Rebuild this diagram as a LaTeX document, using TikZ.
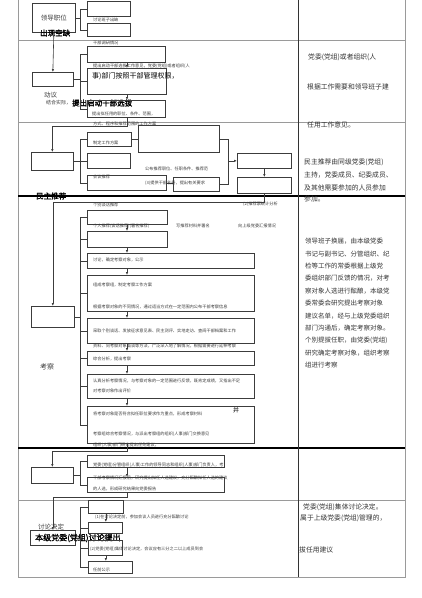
\documentclass[tikz,border=0pt]{standalone}
\usepackage{fontspec}
\setmainfont{Noto Sans CJK SC}
\newfontfamily\cjkbold[FakeBold=2]{Noto Sans CJK SC}
\usetikzlibrary{arrows.meta}
\definecolor{gridgray}{HTML}{9A9A9A}
\definecolor{inkgray}{HTML}{3C3C3C}
\tikzset{
    box/.style={draw=inkgray, line width=0.7pt, anchor=north west, inner sep=0pt},
    tiny/.style={font=\fontsize{4.2}{5}\selectfont, anchor=west, inner sep=0pt, text=inkgray},
    lab/.style={font=\fontsize{6.5}{8}\selectfont, anchor=west, inner sep=0pt, text=inkgray},
    big/.style={font=\cjkbold\fontsize{7.5}{8}\selectfont, anchor=west, inner sep=0pt, text=black},
    note/.style={font=\fontsize{6.8}{8}\selectfont, anchor=west, inner sep=0pt, text=black!80},
    arr/.style={draw=inkgray, line width=0.6pt, -{Latex[length=3pt,width=2.5pt]}},
    link/.style={draw=inkgray, line width=0.6pt},
    grid/.style={draw=gridgray, line width=0.6pt},
    rule/.style={draw=black, line width=1.1pt}
}
\begin{document}
\begin{tikzpicture}[x=1pt,y=-1pt]
        \useasboundingbox (0,0) rectangle (422,598);
        \draw[grid] (18,0) -- (18,577) -- (405,577) -- (405,0);
        \draw[grid] (18,40) -- (405,40);
        \draw[grid] (18,122) -- (405,122);
        \draw[rule] (18,196) -- (405,196);
        \draw[rule] (18,448) -- (405,448);
        \draw[grid] (18,500) -- (405,500);
        \draw[draw=black!80, line width=0.9pt] (298,0) -- (298,577);
        \coordinate (sp) at (80,0);
        \coordinate (ax) at (127,0);

        \node[box, minimum width=43pt, minimum height=29pt, font=\fontsize{6.5}{8}\selectfont, text=inkgray] (vac) at (32,3) {领导职位};
        \node[big] (vacl) at (40,33) {出现空缺};
        \node[box, minimum width=43pt, minimum height=15pt] (r1a) at (87,1) {};
        \node[box, minimum width=43pt, minimum height=13pt] (r1b) at (87,23) {};
        \node[tiny] (r1bl) at (93,20) {讨论班子出缺};
        \draw[link] (vac.east) -- (vac.east -| sp);
        \draw[link] (sp |- r1a.west) -- (sp |- r1b.west);
        \foreach \b in {r1a,r1b} \draw[link] (sp |- \b.west) -- (\b.west);

        \node[box, minimum width=41pt, minimum height=14pt] (mot) at (32,72) {};
        \draw[arr] (vac.south) -- (mot.north);
        \node[lab] (motl) at (44,95) {动议};
        \node[lab, font=\fontsize{5}{6}\selectfont] (motm) at (46,103) {结合实际，};
        \node[big] (motn) at (72,103) {提出启动干部选拔};
        \node[box, minimum width=78pt, minimum height=16pt] (ra) at (87,46) {};
        \node[box, minimum width=79pt, minimum height=26pt] (rb) at (87,68) {};
        \node[box, minimum width=78pt, minimum height=17pt] (rc) at (87,100) {};
        \node[tiny] (ral) at (93,43) {干部调研情况};
        \node[tiny] (rbl) at (93,66) {提出启动干部选拔工作意见，党委(党组)或者组织(人};
        \node[big, font=\fontsize{7}{8}\selectfont] (rbm) at (92,76) {事)部门按照干部管理权限，};
        \node[tiny] (rcl) at (92,114) {提出拟任用的职位、条件、范围，};
        \draw[arr] (ax |- ra.south) -- (ax |- rb.north);
        \draw[arr] (ax |- rb.south) -- (ax |- rc.north);
        \draw[link] (mot.east) -- (mot.east -| sp);
        \draw[link] (sp |- ra.west) -- (sp |- rc.west);
        \foreach \b in {ra,rb,rc} \draw[link] (sp |- \b.west) -- (\b.west);

        \node[box, minimum width=42pt, minimum height=18pt] (dem) at (31,152) {};
        \draw[arr] (ax |- rc.south) -- ++(0,9) -| (dem.north);
        \node[tiny] (deml) at (93,124) {方式、程序和推荐范围的工作方案};
        \node[box, minimum width=44pt, minimum height=14pt] (rd) at (87,132) {};
        \node[box, minimum width=43pt, minimum height=15pt] (re) at (87,153) {};
        \node[box, minimum width=79pt, minimum height=15pt] (rf) at (87,175) {};
        \node[box, minimum width=81pt, minimum height=27pt] (rg) at (138,125) {};
        \node[box, minimum width=46pt, minimum height=14pt] (rh) at (173,177) {};
        \node[box, minimum width=54pt, minimum height=15pt] (ri) at (237,153) {};
        \node[box, minimum width=54pt, minimum height=16pt] (rj) at (237,177) {};
        \node[tiny] (rdl) at (93,143) {制定工作方案};
        \node[tiny] (rfl) at (93,177) {会议推荐};
        \node[tiny] (rgl) at (145,169) {公布推荐职位、任职条件、推荐范};
        \node[tiny] (rhl) at (145,183) {(3)提供干部名册，提出有关要求};
        \draw[link] (rd.east) -- (rd.east -| rg.west);
        \draw[link] (rf.east) -- (rf.east -| rh.west);
        \draw[link] (rg.east) -- ++(9,0) coordinate (gk) -- (gk |- rh.east) -- (rh.east);
        \draw[arr] (gk |- ri.west) -- (ri.west);
        \draw[arr] (ri.south) -- (rj.north);
        \draw[link] (dem.east) -- (dem.east -| sp);
        \draw[link] (sp |- rd.west) -- (sp |- rf.west);
        \foreach \b in {rd,re,rf} \draw[link] (sp |- \b.west) -- (\b.west);
        \node[big] (deml) at (36,196) {民主推荐};

        \node[box, minimum width=43pt, minimum height=21pt] (ins) at (31,306) {};
        \draw[arr] (rj.south) -- ++(0,9) -| (ins.north);
        \node[lab, font=\fontsize{7}{8}\selectfont] (insl) at (40,367) {考察};
        \node[box, minimum width=80pt, minimum height=14pt] (l1) at (87,210) {};
        \node[box, minimum width=80pt, minimum height=16pt] (l2) at (87,231) {};
        \node[box, minimum width=167pt, minimum height=15pt] (l3) at (87,253) {};
        \node[box, minimum width=167pt, minimum height=36pt] (l4) at (87,275) {};
        \node[box, minimum width=167pt, minimum height=25pt] (l5) at (87,318) {};
        \node[box, minimum width=167pt, minimum height=14pt] (l6) at (87,351) {};
        \node[box, minimum width=167pt, minimum height=24pt] (l7) at (87,374) {};
        \node[box, minimum width=167pt, minimum height=37pt] (l8) at (87,406) {};
        \node[tiny] (l1l) at (93,205) {个别谈话推荐};
        \node[tiny] (l1m) at (243,204) {(2)推荐票统计分析};
        \node[tiny] (l2l) at (93,226) {个人推荐(谈话推荐)(署名推荐)};
        \node[tiny] (l2m) at (176,226) {写推荐材料并署名};
        \node[tiny] (l2n) at (238,226) {向上级党委汇报情况};
        \node[tiny] (l3l) at (93,260) {讨论，确定考察对象，公示};
        \node[tiny] (l4l) at (93,285) {组成考察组，制定考察工作方案};
        \node[tiny] (l4m) at (93,307) {根据考察对象的不同情况，通过适当方式在一定范围内公布干部考察信息};
        \node[tiny] (l5l) at (93,331) {采取个别谈话、发放征求意见表、民主测评、实地走访、查阅干部档案和工作};
        \node[tiny] (l5m) at (93,346) {资料、同考察对象面谈等方法，广泛深入地了解情况，根据需要进行延伸考察};
        \node[tiny] (l6l) at (93,359) {综合分析，提出考察};
        \node[tiny] (l7l) at (93,381) {认真分析考察情况，与考察对象的一定范围进行反馈，既肯定成绩，又指出不足};
        \node[tiny] (l7m) at (93,391) {对考察对象作出评价};
        \node[tiny] (l8l) at (93,414) {将考察对象是否符合拟任职位要求作为重点，形成考察材料};
        \node[big, font=\fontsize{6}{7}\selectfont] (l8x) at (233,410) {并};
        \node[tiny] (l8m) at (93,434) {考察组综合考察情况，与派出考察组的组织(人事)部门交换意见};
        \node[tiny] (l8n) at (93,445) {组织(人事)部门研究提出任免建议，};
        \draw[arr] (ax |- l1.south) -- (ax |- l2.north);
        \draw[arr] (ax |- l2.south) -- (ax |- l3.north);
        \draw[arr] (ax |- l3.south) -- (ax |- l4.north);
        \draw[arr] (ax |- l4.south) -- (ax |- l5.north);
        \draw[arr] (ax |- l5.south) -- (ax |- l6.north);
        \draw[arr] (ax |- l6.south) -- (ax |- l7.north);
        \draw[arr] (ax |- l7.south) -- (ax |- l8.north);
        \draw[link] (ins.east) -- (ins.east -| sp);
        \draw[link] (sp |- l1.west) -- (sp |- l8.west);
        \foreach \b in {l1,l2,l3,l4,l5,l6,l7,l8} \draw[link] (sp |- \b.west) -- (\b.west);

        \node[box, minimum width=42pt, minimum height=16pt] (pre) at (31,467) {};
        \draw[arr] (ax |- l8.south) -- ++(0,8) -| (pre.north);
        \node[box, minimum width=137pt, minimum height=12pt] (n1) at (87,455) {};
        \node[box, minimum width=137pt, minimum height=15pt] (n2) at (87,477) {};
        \node[tiny] (n1l) at (93,465) {党委(党组)分管组织(人事)工作的领导同志和组织(人事)部门负责人，考};
        \node[tiny] (n2l) at (93,478) {干部考察情况汇报后，研究提出拟任人选建议，充分酝酿拟任人选的建议};
        \node[tiny] (n2m) at (93,489) {的人选，形成研究结果向党委报告};
        \draw[arr] (ax |- n1.south) -- (ax |- n2.north);
        \draw[link] (pre.east) -- (pre.east -| sp);
        \draw[link] (sp |- n1.west) -- (sp |- n2.west);
        \foreach \b in {n1,n2} \draw[link] (sp |- \b.west) -- (\b.west);

        \node[box, minimum width=45pt, minimum height=15pt] (dec) at (30,530) {};
        \draw[arr] (ax |- n2.south) -- ++(0,5) -| (dec.north);
        \node[lab] (decl) at (38,527) {讨论决定};
        \node[big, font=\cjkbold\fontsize{8}{9}\selectfont] (decm) at (35,538) {本级党委(党组)讨论提出};
        \node[box, minimum width=35pt, minimum height=13pt] (p1) at (88,500) {};
        \node[box, minimum width=34pt, minimum height=11pt] (p2) at (88,522) {};
        \node[box, minimum width=34pt, minimum height=15pt] (p3) at (88,540) {};
        \node[box, minimum width=44pt, minimum height=12pt] (p4) at (88,561) {};
        \node[tiny] (p1l) at (95,517) {(1)在讨论决定前，参加会议人员进行充分酝酿讨论};
        \node[tiny] (p3l) at (90,549) {(2)党委(党组)集体讨论决定，会议应有三分之二以上成员到会};
        \node[tiny] (p4l) at (93,570) {任前公示};
        \draw[arr] (p1.south) -- (p1.south |- p2.north);
        \draw[arr] (p1.south |- p2.south) -- (p1.south |- p3.north);
        \draw[arr] (p1.south |- p3.south) -- (p1.south |- p4.north);
        \draw[link] (dec.east) -- (dec.east -| sp);
        \draw[link] (sp |- p1.west) -- (sp |- p4.west);
        \foreach \b in {p1,p2,p3,p4} \draw[link] (sp |- \b.west) -- (\b.west);

        \node[note] (t1) at (308,57) {党委(党组)或者组织(人};
        \node[note] (t2) at (307,87) {根据工作需要和领导班子建};
        \node[note] (t3) at (307,125) {任用工作意见。};
        \node[note] (t4) at (304,162) {民主推荐由同级党委(党组)};
        \node[note] (t5) at (304,175) {主持，党委成员、纪委成员、};
        \node[note] (t6) at (304,188) {及其他需要参加的人员参加};
        \node[note] (t7) at (304,199) {参加。};
        \node[note, anchor=north west, align=left, font=\fontsize{6.5}{12.4}\selectfont] (t8) at (305,238) {领导班子换届，由本级党委\\书记与副书记、分管组织、纪\\检等工作的常委根据上级党\\委组织部门反馈的情况，对考\\察对象人选进行酝酿，本级党\\委常委会研究提出考察对象\\建议名单，经与上级党委组织\\部门沟通后，确定考察对象。\\个别提拔任职，由党委(党组)\\研究确定考察对象，组织考察\\组进行考察};
        \node[note] (t9) at (303,507) {党委(党组)集体讨论决定。};
        \node[note] (t10) at (300,518) {属于上级党委(党组)管理的，};
        \node[note] (t11) at (299,550) {拔任用建议};
\end{tikzpicture}
\end{document}
